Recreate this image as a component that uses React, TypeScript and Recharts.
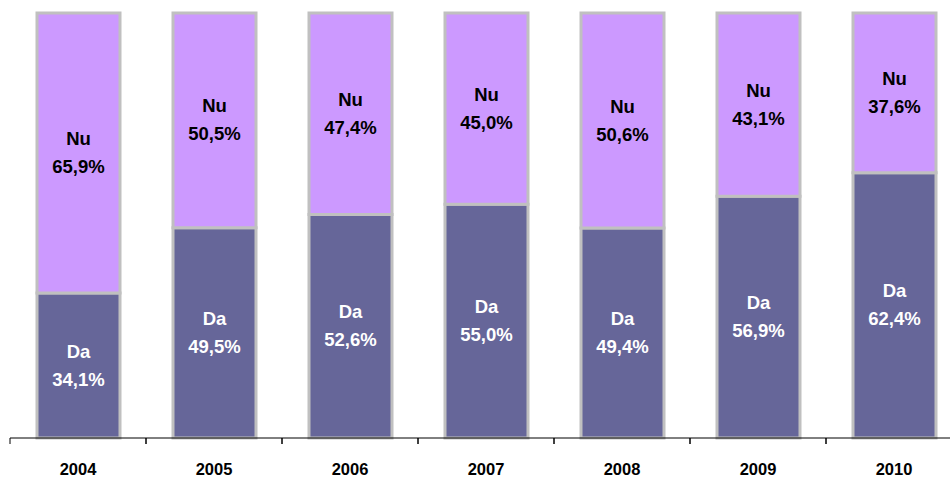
import React from 'react';
import { BarChart, Bar, XAxis, YAxis, LabelList } from 'recharts';

const years = ['2004', '2005', '2006', '2007', '2008', '2009', '2010'];
const daValues = [34.1, 49.5, 52.6, 55.0, 49.4, 56.9, 62.4];
const nuValues = [65.9, 50.5, 47.4, 45.0, 50.6, 43.1, 37.6];

const data = years.map((year, i) => ({ year, da: daValues[i], nu: nuValues[i] }));

const FONT = "Arial, 'Liberation Sans', sans-serif";

const fmt = (v: number) => v.toFixed(1).replace('.', ',') + '%';

const makeLabel = (name: string, color: string) => (props: any) => {
  const { x, y, width, height, value } = props;
  const cx = Number(x) + Number(width) / 2;
  const cy = Number(y) + Number(height) / 2;
  return (
    <text x={cx} y={cy} textAnchor="middle" fill={color} fontFamily={FONT} fontWeight="bold" fontSize={18.5}>
      <tspan x={cx} dy={-8}>{name}</tspan>
      <tspan x={cx} dy={28}>{fmt(value)}</tspan>
    </text>
  );
};

const YearTick = (props: any) => {
  const { x, y, payload } = props;
  const half = payload.offset || 0;
  return (
    <g>
      <line x1={x - half} y1={y - 8} x2={x - half} y2={y - 2} stroke="#000" />
      <line x1={x + half} y1={y - 8} x2={x + half} y2={y - 2} stroke="#000" />
      <text x={x} y={y + 29} textAnchor="middle" fill="#000" fontFamily={FONT} fontWeight="bold" fontSize={16.5}>
        {payload.value}
      </text>
    </g>
  );
};

export default function App() {
  return (
    <div style={{ position: 'absolute', left: 0, top: 0, width: 950, height: 477, overflow: 'hidden', background: '#fff' }}>
      <BarChart
        width={980}
        height={477}
        data={data}
        margin={{ top: 13, right: 18, left: 10, bottom: 0 }}
        barSize={83}
      >
        <XAxis
          dataKey="year"
          axisLine={{ stroke: '#000' }}
          tickLine={false}
          tickSize={6}
          tick={<YearTick />}
          height={39}
          interval={0}
        />
        <YAxis hide domain={[0, 100]} />
        <Bar dataKey="da" stackId="a" fill="#666699" stroke="#c0c0c0" strokeWidth={3} isAnimationActive={false}>
          <LabelList dataKey="da" content={makeLabel('Da', '#fff')} />
        </Bar>
        <Bar dataKey="nu" stackId="a" fill="#cc99ff" stroke="#c0c0c0" strokeWidth={3} isAnimationActive={false}>
          <LabelList dataKey="nu" content={makeLabel('Nu', '#000')} />
        </Bar>
      </BarChart>
    </div>
  );
}
